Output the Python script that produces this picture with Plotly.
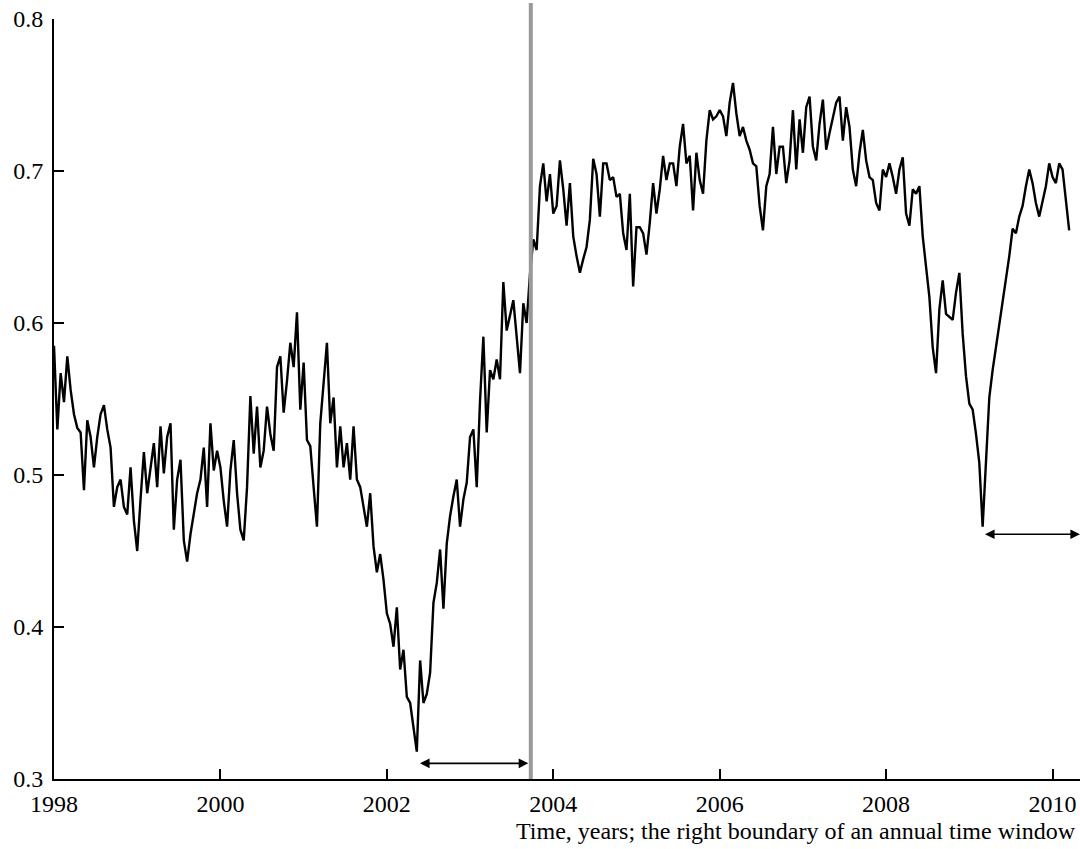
import numpy as np
import plotly.graph_objects as go

# Sampling of the series: right boundary of the annual window (years)
start_year = 1998.0
year_step = 0.04

# Series values (one value per sample)
values = [
    0.585, 0.530, 0.567, 0.548, 0.578, 0.556, 0.540, 0.531, 0.528, 0.490,
    0.536, 0.525, 0.505, 0.525, 0.540, 0.546, 0.530, 0.518, 0.479, 0.492,
    0.497, 0.479, 0.474, 0.505, 0.470, 0.450, 0.484, 0.515, 0.488, 0.505,
    0.521, 0.492, 0.532, 0.501, 0.525, 0.534, 0.464, 0.497, 0.510, 0.457,
    0.443, 0.461, 0.474, 0.488, 0.497, 0.518, 0.479, 0.534, 0.503, 0.516,
    0.505, 0.483, 0.466, 0.503, 0.523, 0.488, 0.464, 0.457, 0.492, 0.552,
    0.514, 0.545, 0.505, 0.516, 0.545, 0.527, 0.516, 0.571, 0.578, 0.541,
    0.562, 0.587, 0.571, 0.607, 0.543, 0.574, 0.523, 0.519, 0.492, 0.466,
    0.534, 0.562, 0.587, 0.534, 0.551, 0.505, 0.532, 0.505, 0.521, 0.497,
    0.532, 0.497, 0.492, 0.479, 0.466, 0.488, 0.453, 0.436, 0.448, 0.431,
    0.409, 0.402, 0.387, 0.413, 0.372, 0.385, 0.354, 0.350, 0.332, 0.318,
    0.378, 0.350, 0.356, 0.370, 0.416, 0.429, 0.451, 0.412, 0.455, 0.473,
    0.486, 0.497, 0.466, 0.484, 0.495, 0.525, 0.530, 0.492, 0.549, 0.591,
    0.528, 0.569, 0.563, 0.576, 0.563, 0.627, 0.595, 0.604, 0.615, 0.591,
    0.567, 0.613, 0.600, 0.632, 0.655, 0.648, 0.690, 0.705, 0.680, 0.698,
    0.672, 0.677, 0.707, 0.688, 0.664, 0.692, 0.657, 0.644, 0.633, 0.642,
    0.650, 0.668, 0.708, 0.698, 0.670, 0.705, 0.705, 0.694, 0.696, 0.683,
    0.685, 0.659, 0.648, 0.685, 0.624, 0.663, 0.663, 0.659, 0.645, 0.666,
    0.692, 0.672, 0.688, 0.710, 0.694, 0.705, 0.705, 0.690, 0.716, 0.731,
    0.705, 0.710, 0.674, 0.712, 0.694, 0.685, 0.720, 0.740, 0.734, 0.736,
    0.740, 0.736, 0.723, 0.745, 0.758, 0.738, 0.723, 0.729, 0.720, 0.714,
    0.705, 0.703, 0.677, 0.661, 0.690, 0.698, 0.729, 0.698, 0.716, 0.716,
    0.692, 0.707, 0.740, 0.701, 0.734, 0.712, 0.742, 0.749, 0.716, 0.707,
    0.731, 0.747, 0.714, 0.725, 0.734, 0.745, 0.749, 0.720, 0.742, 0.729,
    0.701, 0.690, 0.712, 0.727, 0.707, 0.696, 0.694, 0.679, 0.674, 0.701,
    0.696, 0.705, 0.696, 0.685, 0.701, 0.709, 0.672, 0.664, 0.688, 0.685,
    0.690, 0.657, 0.637, 0.617, 0.584, 0.567, 0.609, 0.628, 0.606, 0.604,
    0.602, 0.620, 0.633, 0.593, 0.565, 0.547, 0.543, 0.527, 0.508, 0.466,
    0.505, 0.551, 0.569, 0.584, 0.598, 0.613, 0.630, 0.644, 0.662, 0.659,
    0.670, 0.677, 0.690, 0.701, 0.692, 0.679, 0.670, 0.681, 0.690, 0.705,
    0.696, 0.692, 0.705, 0.701, 0.679, 0.661,
]
years = start_year + year_step * np.arange(len(values))

# Axis settings
x_range = [1998.0, 2010.33]
y_range = [0.3, 0.8]
x_ticks = [1998, 2000, 2002, 2004, 2006, 2008, 2010]
y_ticks = [0.3, 0.4, 0.5, 0.6, 0.7, 0.8]
x_title = "Time, years; the right boundary of an annual time window"

# Marked window boundary and annual-window arrows
boundary_year = 2003.73
boundary_top = 0.8105
arrow_windows = [
    (2002.38, 2003.70, 0.3103),
    (2009.17, 2010.33, 0.461),
]

font_family = "Liberation Serif"

fig = go.Figure()
fig.add_trace(go.Scatter(
    x=years, y=values, mode="lines",
    line=dict(color="black", width=2.4),
    showlegend=False, hoverinfo="skip",
))

fig.add_shape(type="line", xref="x", yref="paper",
              x0=boundary_year, x1=boundary_year, y0=0,
              y1=(boundary_top - y_range[0]) / (y_range[1] - y_range[0]),
              line=dict(color="#999999", width=4), layer="above")

for x0, x1, yv in arrow_windows:
    fig.add_annotation(x=x1, y=yv, ax=x0, ay=yv, xref="x", yref="y",
                       axref="x", ayref="y", text="", showarrow=True,
                       arrowhead=2, arrowside="end+start", arrowsize=1.2,
                       arrowwidth=1.6, arrowcolor="black",
                       standoff=0, startstandoff=0)

fig.add_annotation(text=x_title, xref="paper", yref="paper",
                   x=0.998, y=-0.068, xanchor="right", yanchor="middle",
                   showarrow=False, font=dict(family=font_family, size=24, color="black"))

fig.update_layout(
    width=1080, height=849,
    margin=dict(l=54, r=0, t=19, b=70),
    paper_bgcolor="white", plot_bgcolor="white",
    font=dict(family=font_family, size=24, color="black"),
)
fig.update_xaxes(
    range=x_range, tickvals=x_ticks, ticktext=[str(t) for t in x_ticks],
    ticks="inside", ticklen=10, tickwidth=2, tickcolor="black",
    showline=True, linewidth=2, linecolor="black",
    showgrid=False, zeroline=False, ticklabelstandoff=2,
    tickfont=dict(family=font_family, size=24, color="black"),
)
fig.update_yaxes(
    range=y_range, tickvals=y_ticks, ticktext=[f"{t:.1f}" for t in y_ticks],
    ticks="inside", ticklen=10, tickwidth=2, tickcolor="black",
    showline=True, linewidth=2, linecolor="black",
    showgrid=False, zeroline=False, ticklabelstandoff=4,
    tickfont=dict(family=font_family, size=24, color="black"),
)

fig.write_html("out.html", config={"displayModeBar": False},
               post_script="document.body.style.margin='0';")
